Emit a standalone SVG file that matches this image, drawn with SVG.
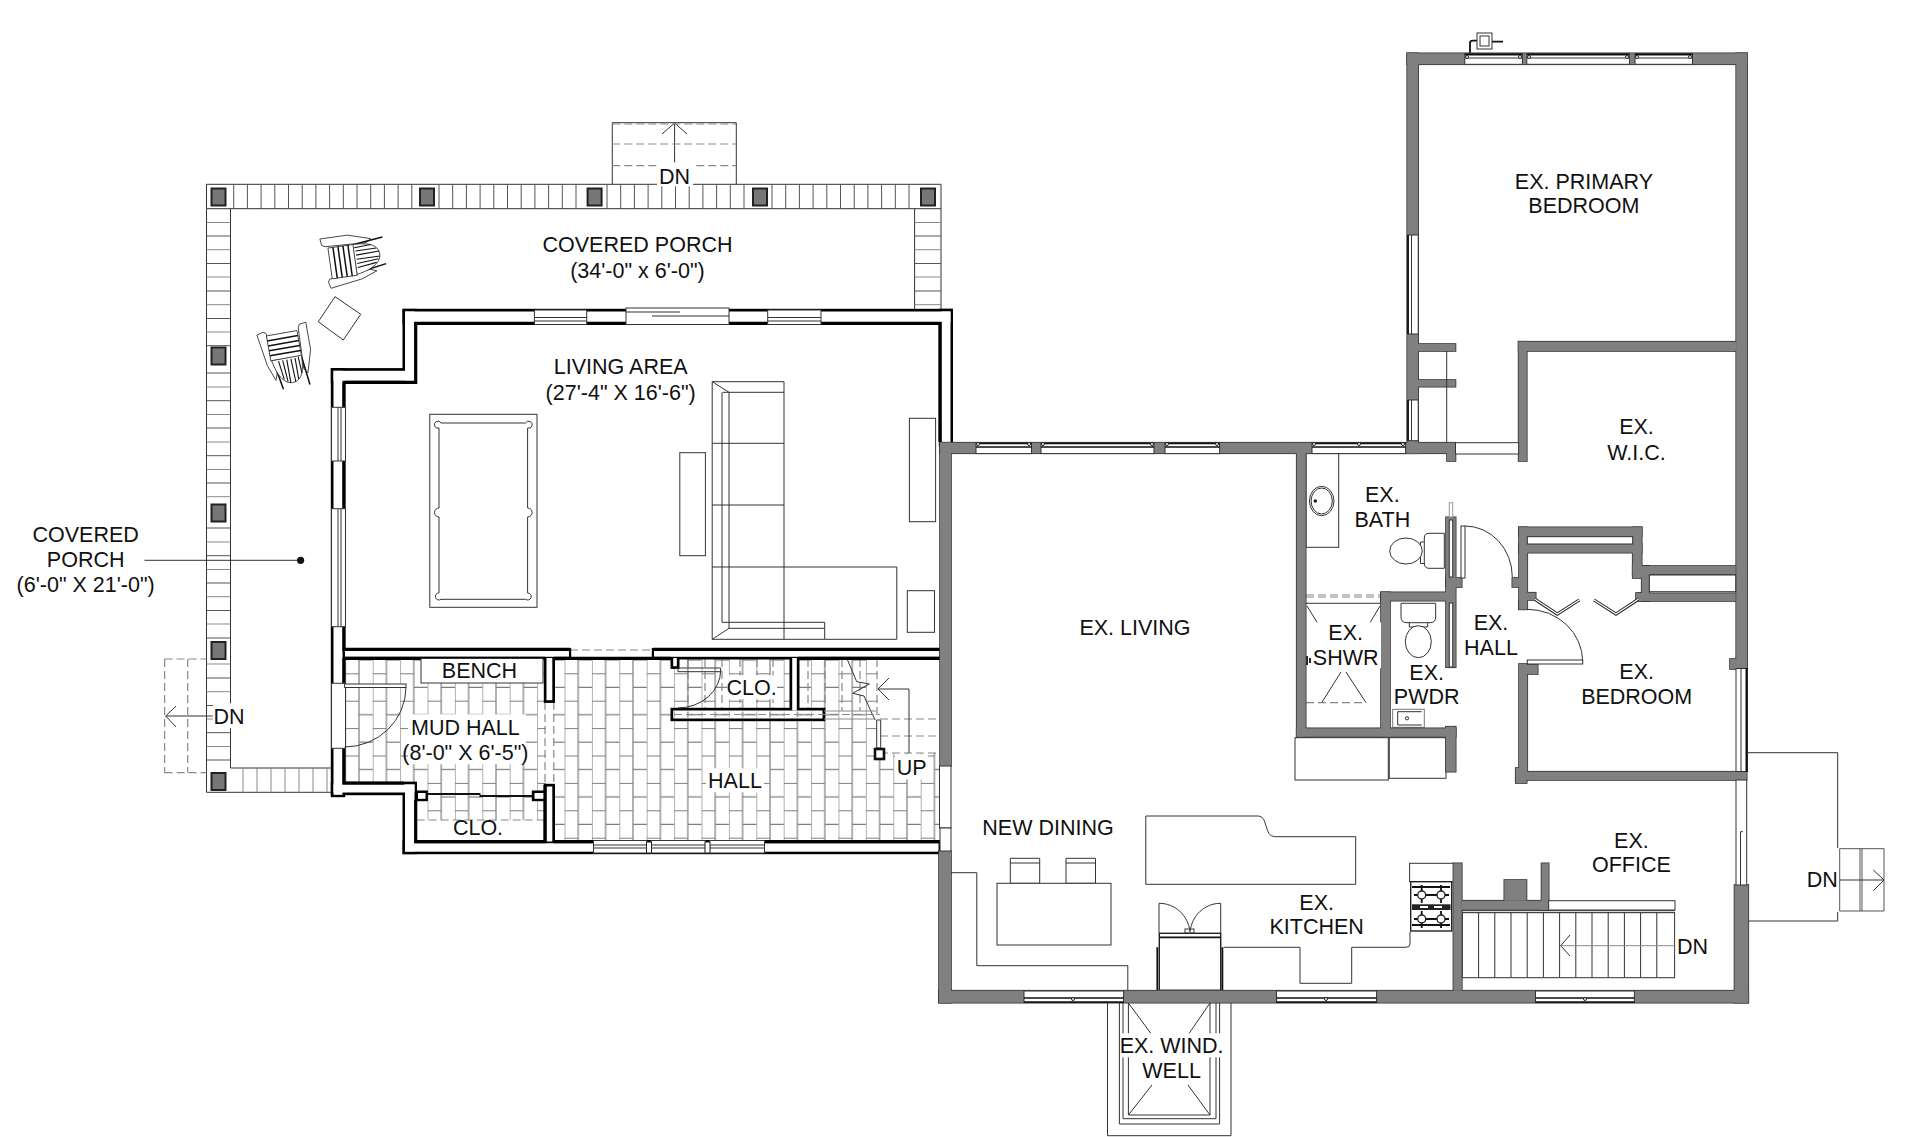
<svg xmlns="http://www.w3.org/2000/svg" xmlns:xlink="http://www.w3.org/1999/xlink" width="1920" height="1137" viewBox="0 0 1920 1137">
<style>
text{font-family:"Liberation Sans",Arial,sans-serif;font-size:21.5px;fill:#111;text-anchor:middle}
.t{fill:none;stroke:#333;stroke-width:1}
.tb{fill:none;stroke:#111;stroke-width:1.3}
.th{fill:none;stroke:#111;stroke-width:1.8}
.k{fill:#fff;stroke:#111;stroke-width:2.6}
.kf{fill:#fff;stroke:#222;stroke-width:1.4}
.f{fill:#fff;stroke:#333;stroke-width:1}
.g{fill:none;stroke:#8a8a8a;stroke-width:1}
.gd{fill:none;stroke:#555;stroke-width:1}
.d{fill:none;stroke:#888;stroke-width:1.2;stroke-dasharray:8 4}
.w{fill:#fff;stroke:none}
.win{fill:#fff;stroke:#333;stroke-width:1}
.hg{fill:#fff;stroke:#222;stroke-width:1}
.col{fill:#777;stroke:#222;stroke-width:2}
.hv{fill:none;stroke:#000;stroke-width:3.2}
</style>
<defs>
<pattern id="tile" patternUnits="userSpaceOnUse" x="646.7" y="673.3" width="27.4" height="27.4">
<path d="M0,0V27.4M13.7,0V27.4M0,0.5H13.7M13.7,14H27.4" fill="none" stroke="#7d7d7d" stroke-width="1.2"/>
</pattern>
<clipPath id="tileclip"><path d="M344,658H878V753H940V842H545V820H416V783H344Z"/></clipPath>
<g id="chair">
<path class="f" d="M-30,-33L-22,-35L-19,-33L-14,16L-17,24L-24,5Z"/>
<path class="f" d="M30,-38L22,-37L20,-33L18,16L22,22L30,-5Z"/>
<path class="th" d="M-16,2L-10,36M18,2L22,36"/>
<path class="f" d="M-18,0C-14,22 -6,30 2,30C12,30 18,22 18,-1Z"/>
<path class="tb" d="M-10,2L-7,25M-5,2L-3,28M0,2V30M5,2L6,30M10,2L10,27M14,1L15,21"/>
<rect class="f" x="-19" y="-30" width="37" height="30"/>
<path class="th" d="M-19,-24H18M-19,-18H18M-19,-12H18M-19,-6H18"/>
</g>
</defs>
<rect width="1920" height="1137" fill="#fff"/>

<g id="porch-deck">
<path class="t" d="M206.5,184.3H941V208.7H206.5ZM206.5,208.7V792.3H332M230.5,208.7V768H332M914.6,208.7V310M941,208.7V310"/>
<path class="gd" d="M233.7,184.3V208.7M247.4,184.3V208.7M261.1,184.3V208.7M274.8,184.3V208.7M288.5,184.3V208.7M302.2,184.3V208.7M315.9,184.3V208.7M329.6,184.3V208.7M343.3,184.3V208.7M357,184.3V208.7M370.7,184.3V208.7M384.4,184.3V208.7M398.1,184.3V208.7M411.8,184.3V208.7M439,184.3V208.7M452.7,184.3V208.7M466.4,184.3V208.7M480.1,184.3V208.7M493.8,184.3V208.7M507.5,184.3V208.7M521.2,184.3V208.7M534.9,184.3V208.7M548.6,184.3V208.7M562.3,184.3V208.7M576,184.3V208.7M607,184.3V208.7M620.7,184.3V208.7M634.4,184.3V208.7M648.1,184.3V208.7M661.8,184.3V208.7M675.5,184.3V208.7M689.2,184.3V208.7M702.9,184.3V208.7M716.6,184.3V208.7M730.3,184.3V208.7M744,184.3V208.7M772,184.3V208.7M785.7,184.3V208.7M799.4,184.3V208.7M813.1,184.3V208.7M826.8,184.3V208.7M840.5,184.3V208.7M854.2,184.3V208.7M867.9,184.3V208.7M881.6,184.3V208.7M895.3,184.3V208.7M909,184.3V208.7"/>
<path class="g" d="M206.5,222.5H230.5M206.5,249.7H230.5M206.5,277H230.5M206.5,304.7H230.5M206.5,332H230.5M206.5,387H230.5M206.5,414.5H230.5M206.5,442H230.5M206.5,469.5H230.5M206.5,496.7H230.5M206.5,542H230.5M206.5,569.5H230.5M206.5,596.7H230.5M206.5,624H230.5M206.5,664H230.5M206.5,691.7H230.5M206.5,719H230.5M206.5,746.5H230.5M914.6,222.5H941M914.6,249.7H941M914.6,277H941M914.6,304.7H941"/>
<path class="gd" d="M206.5,236H230.5M206.5,263.5H230.5M206.5,291H230.5M206.5,318.5H230.5M206.5,345.7H230.5M206.5,373H230.5M206.5,400.7H230.5M206.5,428H230.5M206.5,455.7H230.5M206.5,483H230.5M206.5,528H230.5M206.5,555.7H230.5M206.5,583H230.5M206.5,610.5H230.5M206.5,638H230.5M206.5,678H230.5M206.5,705.5H230.5M206.5,732.7H230.5M206.5,760H230.5M914.6,236H941M914.6,263.5H941M914.6,291H941"/>
<path class="g" d="M243,768V792.3M257,768V792.3M271,768V792.3M285,768V792.3M299,768V792.3M313,768V792.3M327,768V792.3"/>
<rect class="col" x="211.5" y="188.5" width="14" height="17"/><rect class="col" x="420" y="188.5" width="14" height="17"/><rect class="col" x="587.6" y="188.5" width="14" height="17"/><rect class="col" x="753" y="188.5" width="14" height="17"/><rect class="col" x="921" y="188.5" width="14" height="17"/>
<rect class="col" x="211.5" y="347.5" width="14" height="17"/><rect class="col" x="211.5" y="504.5" width="14" height="17"/><rect class="col" x="211.5" y="642" width="14" height="17"/><rect class="col" x="211.5" y="773" width="14" height="17"/>
</g>

<g id="stairs-north">
<path class="t" d="M612.3,184.3V122.7H736.3V184.3M674.6,124V165"/>
<path class="t" d="M662,134L674.6,123L687,134"/>
<path class="d" d="M612.3,124H736.3M612.3,144H736.3M612.3,165.7H736.3"/>
</g>
<g id="stairs-west">
<path class="d" d="M164.6,659V772.7M187.7,659V772.7M164.6,659H206.5M164.6,772.7H206.5"/>
<path class="t" d="M212.8,716H165.7M176,706L165.7,716L176,727"/>
</g>
<g id="stairs-east">
<path class="t" d="M1747.7,752.7H1837.7V848M1837.7,912V921H1747.7"/>
<path class="gd" d="M1839.7,848.7H1884V911H1839.7ZM1860,848.7V911M1862,848.7V911"/>
<path class="t" d="M1840,880H1884M1873.3,870L1884,880L1873.3,890.7"/>
</g>
<g id="window-well">
<path class="t" d="M1107.5,1002V1135.7H1231V1002M1119.4,1002V1124H1219.6V1002M1123,1002V1118.7H1216V1002M1128.4,1002V1115H1210V1002"/>
<path class="t" d="M1128.4,1003L1152,1035M1210,1003L1188,1035M1128.4,1115L1152,1085M1210,1115L1188,1085"/>
</g>

<g id="tile-floor">
<rect x="344" y="658" width="600" height="190" fill="url(#tile)" clip-path="url(#tileclip)"/>
<rect class="w" x="546" y="702" width="7" height="83"/>
<path class="d" d="M545,702V785M553.8,702V785"/>
<path class="d" d="M416.7,820H545"/>
<path class="d" d="M570,650H653M570,658H653"/>
<path class="d" d="M688,659V711M705,659V711M722,659V711M740,659V711M757,659V711M773,659V711M808,659V711M825,659V711M842,659V711M860,659V711M877,659V719"/>
<path class="d" d="M880,719H940M880,736H940M880,753H940"/>
<path class="t" d="M909,689V753M909,689H878M889,678L878,689L889,700"/>
<path class="t" d="M846.7,658L856.7,681.7L869.3,684L852.7,693.3L864,696L875,720"/>
<path class="f" d="M876.7,720H880.7V748H876.7Z"/>
<rect class="k" x="875" y="749" width="9" height="10"/>
</g>

<g id="furniture">
<rect class="f" x="429.8" y="414.3" width="107.2" height="193"/>
<path class="t" d="M441,423H525.6A3.5,3.5 0 1 1 527.6,428V508A3.5,3.5 0 1 1 527.6,517V593A3.5,3.5 0 1 1 525.6,599.3H441A3.5,3.5 0 1 1 439,593V517A3.5,3.5 0 1 1 439,508V428A3.5,3.5 0 1 1 441,423Z"/>
<rect class="t" x="679.8" y="452.7" width="25.6" height="103"/>
<rect class="t" x="909.4" y="418.3" width="26.2" height="103.4"/>
<rect class="t" x="907.3" y="590.7" width="27.2" height="41.6"/>
<path class="t" d="M712.2,381.7H784V639.3H712.2ZM722.7,392.3H784M722,392.3V622.3H824.7V639.3H784M729,392.3V628.3H824.7M712.2,381.7L729,392.3M712.2,639.3L729,628.3M712.2,443.3H784M712.2,505H784M712.2,567H896.8V639.3H824.7"/>
<path class="t" d="M1010.3,858.3H1039.7V883.3H1010.3ZM1066,858.3H1095.5V883.3H1066ZM1010.3,863H1039.7M1066,863H1095.5"/>
<rect class="f" x="997" y="883.3" width="114" height="61.7"/>
<path class="t" d="M951,872.7H976.8V965.7H1127.8V990.7"/>
<path class="t" d="M1145.8,816H1258.5C1268,816 1264,836.7 1274.7,836.7H1355.7V884.3H1145.8Z"/>
<path class="t" d="M1410,932V944Q1410,947.3 1406,947.3H1351.7V983.3H1300V947.3H1223.7"/>
<path class="t" d="M1159,933V903.3C1175,903.3 1188,915 1190,931.7C1192,915 1205,903.3 1220.7,903.3V933"/>
<rect class="kf" x="1159.3" y="933.3" width="61.4" height="57"/>
<path class="th" d="M1159.3,937.3H1220.7M1157.3,947.3V990.7M1222.4,947.3V990.7"/>
<rect class="t" x="1185" y="929" width="9" height="4"/>
<rect class="f" x="1409.6" y="863.3" width="44" height="18.4"/>
<rect class="kf" x="1410.7" y="881.7" width="41" height="49.3"/>
<path class="th" d="M1412,887H1450M1412,925H1450M1421.7,885V903M1441,885V903M1414,895H1449M1421.7,911V928M1441,911V928M1414,919H1449"/>
<rect x="1412" y="904.3" width="38.5" height="5.7" fill="#222"/>
<rect x="1420" y="906" width="8" height="2" fill="#fff"/><rect x="1434" y="906" width="8" height="2" fill="#fff"/>
<circle class="kf" cx="1421.7" cy="895" r="4"/><circle class="kf" cx="1441" cy="895" r="4"/><circle class="kf" cx="1421.7" cy="919" r="4"/><circle class="kf" cx="1441" cy="919" r="4"/>
<rect class="t" x="1306" y="453" width="32.7" height="94.3"/>
<ellipse class="t" cx="1321.7" cy="501" rx="12.3" ry="14.7"/><ellipse class="t" cx="1321.7" cy="501" rx="10.6" ry="13"/><circle cx="1315.3" cy="501" r="1.8" fill="#222"/>
<path class="t" d="M1424.3,538Q1424.3,533.3 1429,533.3H1444.3V568.3H1429Q1424.3,568.3 1424.3,563ZM1420.5,542V563.5H1424.3M1420.5,542H1424.3"/>
<ellipse class="f" cx="1406" cy="551" rx="16.3" ry="13"/>
<path class="t" d="M1401,603.3H1435.7V617Q1435.7,622.7 1430,622.7H1407Q1401,622.7 1401,617ZM1409.3,622.7V627H1427.7V622.7"/>
<ellipse class="f" cx="1418.3" cy="641.7" rx="13" ry="16"/>
<rect class="f" x="1392.7" y="709.3" width="31.6" height="18" style="stroke:#777"/>
<path class="t" d="M1421.7,711.7H1397.7V725H1421.7"/><circle class="t" cx="1407" cy="718.3" r="1.6"/>
<path class="d" d="M1306,595H1381M1306,597H1381M1306,702.7H1366"/>
<path class="t" d="M1306,603.3H1381M1307,606L1328,640M1380,606L1362.7,635M1341,672L1321.7,702.7M1346,672L1366,702.7"/>
<path class="th" d="M1307,656V665M1310,658V663"/>
<rect class="f" x="1295" y="737.7" width="93.3" height="42.3"/>
<rect class="f" x="1389.3" y="737.7" width="56.7" height="40.6"/>
<path class="th" d="M1470,53V43Q1470,40.7 1473,40.7H1478M1492,41.7H1503"/>
<rect class="f" x="1477" y="33" width="15" height="16"/>
<rect class="t" x="1480" y="36" width="9" height="10"/>
<path class="f" d="M335,296.7L360.7,314.3L343.3,340L318.3,321.7Z"/>
<use xlink:href="#chair" href="#chair" transform="translate(355,259.5) rotate(-98) scale(.84)"/>
<use xlink:href="#chair" href="#chair" transform="translate(286.5,358) rotate(-10) scale(.84)"/>
</g>

<g id="walls-new">
<g stroke="#000" stroke-width="2.4" fill="#000">
<rect x="403.7" y="310" width="548" height="13.3"/><rect x="940" y="310" width="11.8" height="135"/><rect x="403.7" y="310" width="12" height="72.3"/><rect x="332" y="369.3" width="83.7" height="13"/><rect x="332" y="369.3" width="12" height="426.7"/><rect x="344" y="649.3" width="226" height="9"/><rect x="653" y="649.3" width="287" height="9"/><rect x="332" y="783" width="83.7" height="11"/><rect x="403.7" y="783" width="12" height="70"/><rect x="403.7" y="841.7" width="536" height="11.3"/><rect x="545" y="658" width="8.8" height="43.7"/><rect x="545" y="785" width="8.8" height="57"/><rect x="790.7" y="658" width="7.6" height="54"/><rect x="671.7" y="709" width="152.3" height="11"/><rect x="671.7" y="658" width="6.6" height="9.7"/><rect x="416.7" y="791.7" width="10" height="8.3"/><rect x="533" y="791.7" width="12" height="8.3"/>
</g>
<g fill="#fff">
<rect x="405" y="311.5" width="545.5" height="10.5"/><rect x="941.5" y="311.5" width="9" height="132"/><rect x="405" y="311.5" width="9.5" height="69.5"/><rect x="333.5" y="370.8" width="81" height="10"/><rect x="333.5" y="370.8" width="9" height="424"/><rect x="345" y="650.8" width="224" height="6"/><rect x="654" y="650.8" width="285.5" height="6"/><rect x="333.5" y="784.5" width="81" height="8"/><rect x="405" y="784.5" width="9.5" height="67"/><rect x="405" y="843.2" width="533.5" height="8.5"/><rect x="546.5" y="658" width="5.8" height="42.2"/><rect x="546.5" y="786.5" width="5.8" height="55"/><rect x="792.2" y="658" width="4.6" height="52.5"/><rect x="673.2" y="710.5" width="149.3" height="8"/><rect x="673.2" y="658" width="3.6" height="8.2"/><rect x="418" y="793" width="7.5" height="5.8"/><rect x="534.5" y="793" width="9.5" height="5.8"/>
</g>
<path class="hv" d="M345,382.3H415.7V323.3H940V442M344,382.3V649.3H570M653,649.3H940M344,658.3H545M553.8,658.3H671M798,658.3H940M344,658V783H403.7M415.7,800V841.7H545V785M553.8,841.7H940"/>
<rect x="674" y="711.5" width="148" height="6" fill="url(#tile)"/>
<path class="d" d="M674,714.5H880"/>
<path class="g" d="M824,711H876M824,719H876"/>
<path class="t" d="M678,668H720.7V671.7H678ZM720.7,670A43,38 0 0 1 678,708"/>
<path class="th" d="M427,794H480.5M479.5,796H533"/>
<rect class="f" x="421" y="658.5" width="122" height="24.5"/>
</g>

<g id="openings-new">
<rect class="win" x="534.4" y="310" width="52.3" height="14.5"/><path class="t" d="M534.4,317.5H586.7M534.4,321H586.7"/>
<rect class="win" x="626" y="308" width="103" height="16.5"/><path class="t" d="M626,312H680M652,316H729"/>
<rect class="win" x="767.7" y="310" width="53.3" height="14.5"/><path class="t" d="M767.7,317.5H821M767.7,321H821"/>
<rect class="win" x="331.5" y="407.3" width="14" height="53.7"/><path class="t" d="M338,407.3V461M341,407.3V461"/>
<rect class="win" x="331.5" y="508.7" width="14" height="118"/><path class="t" d="M338,508.7V626.7M341,508.7V626.7"/>
<rect class="win" x="331.5" y="683.3" width="14" height="65"/>
<rect class="f" x="344.6" y="684" width="61.4" height="3.5"/>
<path class="t" d="M406,687.5A61.5,60 0 0 1 344.6,747"/>
<rect class="win" x="593.5" y="840.5" width="53.5" height="12.5"/><path class="t" d="M593.5,848H647M593.5,845H647"/>
<rect class="win" x="651" y="840.5" width="54.4" height="12.5"/><path class="t" d="M651,848H705.4M651,845H705.4"/>
<rect class="win" x="709.6" y="840.5" width="54.9" height="12.5"/><path class="t" d="M709.6,848H764.5M709.6,845H764.5"/>
<rect class="hg" x="646.5" y="842" width="5" height="11"/><rect class="hg" x="705" y="842" width="5" height="11"/>
</g>

<g id="walls-existing">
<use href="#gwshapes" xlink:href="#gwshapes" fill="#222" stroke="#333" stroke-width="1.6"/>
<use href="#gwshapes" xlink:href="#gwshapes" fill="#808080"/>
<defs><g id="gwshapes">
<rect x="940" y="442.7" width="515.5" height="10.6"/><rect x="940" y="442.7" width="11" height="323.3"/><rect x="939" y="851" width="12" height="151.7"/><rect x="939" y="990.7" width="809.3" height="12"/>
<rect x="1734.5" y="885" width="13.8" height="117.7"/><rect x="1407.2" y="53.3" width="11" height="400"/><rect x="1407.2" y="53.3" width="340" height="11"/><rect x="1736.2" y="53.3" width="11" height="615"/><rect x="1730" y="659" width="14" height="10"/>
<rect x="1418" y="344" width="37.5" height="7"/><rect x="1418" y="380" width="37.5" height="6.7"/><rect x="1518.6" y="341.7" width="8.2" height="119.3"/><rect x="1518.6" y="341.7" width="218" height="9.3"/><rect x="1447" y="453" width="8.5" height="8"/>
<rect x="1296.7" y="453" width="9" height="283.7"/><rect x="1296.7" y="728.3" width="159" height="8.4"/><rect x="1446" y="726.7" width="9.7" height="45"/><rect x="1381" y="592.3" width="9" height="144"/><rect x="1381" y="592.3" width="66" height="8.4"/>
<rect x="1446" y="517.3" width="9.7" height="150"/><rect x="1446" y="578" width="15.7" height="9"/><rect x="1512.3" y="578" width="7" height="9"/>
<rect x="1519" y="527.3" width="8.3" height="82"/><rect x="1519" y="527.3" width="122.7" height="8.7"/><rect x="1519" y="544" width="122.7" height="8.7"/><rect x="1632.7" y="527.3" width="9" height="47"/><rect x="1632.7" y="566" width="103" height="8.3"/><rect x="1641.7" y="566" width="7.6" height="35"/><rect x="1638" y="593.3" width="97.7" height="7.7"/><rect x="1632.7" y="574" width="9" height="4"/><rect x="1527" y="592.7" width="8.7" height="7.3"/><rect x="1636" y="593" width="6" height="7"/><rect x="1519" y="600" width="8" height="9.3"/>
<rect x="1519" y="664" width="8.3" height="116"/><rect x="1527" y="665" width="10.7" height="9"/><rect x="1519" y="771.7" width="227.7" height="8.3"/><rect x="1515.7" y="768" width="11" height="15"/>
<rect x="1453.4" y="863.3" width="8.4" height="127.4"/><rect x="1461.8" y="900.7" width="86.9" height="9"/><rect x="1541.5" y="863.3" width="7.2" height="46.4"/><rect x="1504.3" y="880" width="22.2" height="20.7"/>
</g></defs>
</g>

<g id="openings-existing">
<rect class="win" x="976" y="443" width="55.5" height="10.6"/><path class="tb" d="M976,443.5H1031.5M976,447H1031.5"/>
<rect class="win" x="1041" y="443" width="113" height="10.6"/><path class="tb" d="M1041,443.5H1154M1041,447H1154"/>
<rect class="win" x="1165" y="443" width="54.6" height="10.6"/><path class="tb" d="M1165,443.5H1219.6M1165,447H1219.6"/>
<rect class="win" x="1312" y="443" width="93.6" height="10.6"/><path class="tb" d="M1312,443.5H1405.6M1312,447H1405.6"/>
<rect class="win" x="1455.5" y="442.7" width="63.1" height="11.3"/>
<rect class="win" x="1464.8" y="54" width="57.6" height="10.3"/><path class="th" d="M1464.8,54.5H1522.4"/><path class="t" d="M1464.8,58H1522.4"/>
<rect class="win" x="1526.8" y="54" width="102.6" height="10.3"/><path class="th" d="M1526.8,54.5H1629.4"/><path class="t" d="M1526.8,58H1629.4"/>
<rect class="win" x="1635" y="54" width="57.5" height="10.3"/><path class="th" d="M1635,54.5H1692.5"/><path class="t" d="M1635,58H1692.5"/>
<rect class="win" x="1408" y="235" width="10.2" height="99"/><path class="th" d="M1408,235V334"/><path class="t" d="M1411.5,235V334"/>
<rect class="win" x="1408" y="400" width="10.2" height="40.7"/><path class="th" d="M1408,400V440.7"/><path class="t" d="M1411.5,400V440.7"/>
<path class="t" d="M1446.7,351V442"/>
<rect class="win" x="1024" y="991" width="99.6" height="11.5"/><path class="tb" d="M1024,998H1123.6M1024,1002H1123.6"/>
<rect class="win" x="1276.5" y="991" width="100.1" height="11.5"/><path class="tb" d="M1276.5,998H1376.6M1276.5,1002H1376.6"/>
<rect class="win" x="1535.5" y="991" width="98.9" height="11.5"/><path class="tb" d="M1535.5,998H1634.4M1535.5,1002H1634.4"/>
<circle class="hg" cx="1073" cy="999" r="1.5"/><circle class="hg" cx="1326" cy="999" r="1.5"/><circle class="hg" cx="1585" cy="999" r="1.5"/><circle class="hg" cx="1359" cy="444" r="1.5"/>
<circle class="hg" cx="978" cy="444" r="1.5"/><circle class="hg" cx="1029" cy="444" r="1.5"/><circle class="hg" cx="1043" cy="444" r="1.5"/><circle class="hg" cx="1152" cy="444" r="1.5"/><circle class="hg" cx="1167" cy="444" r="1.5"/><circle class="hg" cx="1217" cy="444" r="1.5"/><circle class="hg" cx="1314" cy="444" r="1.5"/><circle class="hg" cx="1403" cy="444" r="1.5"/>
<circle class="hg" cx="1467" cy="57" r="1.5"/><circle class="hg" cx="1520" cy="57" r="1.5"/><circle class="hg" cx="1529" cy="57" r="1.5"/><circle class="hg" cx="1627" cy="57" r="1.5"/><circle class="hg" cx="1637" cy="57" r="1.5"/><circle class="hg" cx="1690" cy="57" r="1.5"/>
<rect class="win" x="1736" y="668.5" width="10.7" height="103"/><path class="th" d="M1746.7,668V772" style="stroke-width:2.4"/><path class="t" d="M1741,668.5V771.5"/>
<rect class="win" x="1736" y="780" width="10.7" height="105"/><path class="t" d="M1740.5,831.7V885M1743,831.7H1740.5"/>
<rect class="win" x="939.5" y="766" width="11.5" height="62"/>
<rect class="win" x="940" y="828" width="11" height="23"/>
<rect class="win" x="1449.3" y="520" width="3.4" height="57"/>
<rect class="win" x="1449.3" y="603" width="3.4" height="64"/>
<rect class="win" x="1449.3" y="502.7" width="3.4" height="14.3" style="stroke:#999"/>
<rect class="win" x="1527.3" y="536.7" width="105.4" height="7.3"/>
<rect class="win" x="1649.3" y="575" width="86.4" height="16.7"/>
<rect class="f" x="1461" y="526" width="4" height="52"/>
<path class="t" d="M1465,526A47.3,51 0 0 1 1512.3,577"/>
<path class="t" d="M1527.3,609.3A55.4,52.4 0 0 1 1582.7,661.7"/>
<rect class="f" x="1527.3" y="660" width="55.4" height="4"/>
<path d="M1535,599.3L1557.3,614L1579.3,600M1594,600L1616,614L1638.3,599.3" fill="none" stroke="#222" stroke-width="3.2"/>
<path d="M1535,599.3L1557.3,614L1579.3,600M1594,600L1616,614L1638.3,599.3" fill="none" stroke="#fff" stroke-width="1.2"/>
<rect class="f" x="1548.7" y="900.7" width="126.3" height="9.3"/>
<path class="t" d="M1461.8,910.7H1675M1461.8,912.7H1675"/>
<rect class="f" x="1462.4" y="912.7" width="212.2" height="65"/>
<path class="t" d="M1478.6,912.7V977.7M1494.8,912.7V977.7M1511,912.7V977.7M1527.2,912.7V977.7M1543.4,912.7V977.7M1559.6,912.7V977.7M1575.8,912.7V977.7M1592,912.7V977.7M1608.2,912.7V977.7M1624.4,912.7V977.7M1640.6,912.7V977.7M1656.8,912.7V977.7"/>
<path class="g" d="M1560.7,945.7H1674.6"/>
<path class="t" d="M1570,935L1560.7,945.7L1570,956"/>
</g>

<g id="labels" transform="translate(0,-0.7)">
<rect class="w" x="657" y="163" width="36" height="24"/>
<text x="674.6" y="184.5">DN</text>
<text x="637.5" y="252.7">COVERED PORCH</text>
<text x="637.5" y="278.4">(34'-0" x 6'-0")</text>
<text x="620.7" y="375">LIVING AREA</text>
<text x="620.7" y="400.4">(27'-4" X 16'-6")</text>
<text x="85.7" y="542.7">COVERED</text>
<text x="85.7" y="567.7">PORCH</text>
<text x="85.7" y="592.7">(6'-0" X 21'-0")</text>
<path class="t" d="M144.5,561H298"/><circle cx="300.6" cy="561" r="3.6" fill="#111"/>
<rect class="w" x="213" y="704" width="32" height="25"/>
<text x="229" y="724.4">DN</text>
<text x="479.5" y="678.4">BENCH</text>
<rect class="w" x="408" y="715" width="118" height="50"/>
<text x="465.4" y="735.4">MUD HALL</text>
<text x="465.4" y="761">(8'-0" X 6'-5")</text>
<text x="478" y="835.7">CLO.</text>
<rect class="w" x="727" y="676" width="50" height="24"/>
<text x="751.7" y="695.4">CLO.</text>
<rect class="w" x="706" y="769" width="58" height="24"/>
<text x="735" y="788.7">HALL</text>
<rect class="w" x="895" y="755" width="33" height="25"/>
<text x="911.7" y="775.4">UP</text>
<text x="1583.9" y="189.4">EX. PRIMARY</text>
<text x="1583.9" y="213.7">BEDROOM</text>
<text x="1636.5" y="435">EX.</text>
<text x="1636.5" y="460.4">W.I.C.</text>
<text x="1382.3" y="502.7">EX.</text>
<text x="1382.3" y="527.7">BATH</text>
<rect class="w" x="1311" y="623" width="70" height="46"/>
<text x="1345.7" y="641">EX.</text>
<text x="1345.7" y="666">SHWR</text>
<text x="1426.7" y="680.4">EX.</text>
<text x="1426.7" y="705">PWDR</text>
<text x="1491" y="631">EX.</text>
<text x="1491" y="656">HALL</text>
<text x="1636.7" y="680">EX.</text>
<text x="1636.7" y="705">BEDROOM</text>
<text x="1135" y="635.7">EX. LIVING</text>
<text x="1048" y="835.4">NEW DINING</text>
<text x="1316.7" y="910.4">EX.</text>
<text x="1316.7" y="935">KITCHEN</text>
<text x="1631.4" y="848.4">EX.</text>
<text x="1631.4" y="872.7">OFFICE</text>
<text x="1692.6" y="954.4">DN</text>
<rect class="w" x="1806" y="868" width="32" height="24"/>
<text x="1822.3" y="887.7">DN</text>
<rect class="w" x="1120" y="1034" width="104" height="24"/>
<rect class="w" x="1147" y="1059" width="50" height="24"/>
<text x="1171.6" y="1053.7">EX. WIND.</text>
<text x="1171.6" y="1078.7">WELL</text>
</g>
</svg>
